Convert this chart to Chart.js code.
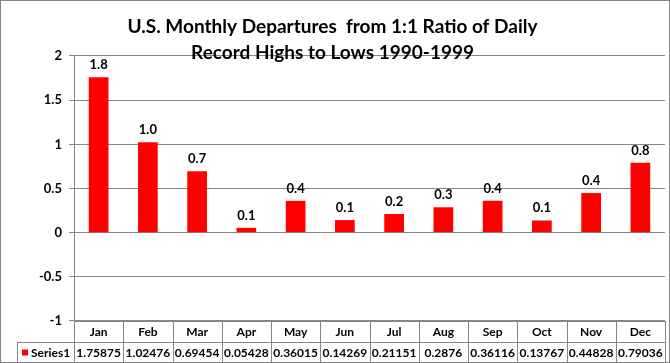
<!DOCTYPE html>
<html>
<head>
<meta charset="utf-8">
<script src="https://cdn.jsdelivr.net/npm/chart.js@4"></script>
<style>
  html, body { margin: 0; padding: 0; background: #fff; }
  #wrap { width: 670px; height: 363px; }
</style>
</head>
<body>
<div id="wrap"><canvas id="chart" width="670" height="363"></canvas></div>
<script>
const months = ['Jan', 'Feb', 'Mar', 'Apr', 'May', 'Jun', 'Jul', 'Aug', 'Sep', 'Oct', 'Nov', 'Dec'];
const series1 = [1.75875, 1.02476, 0.69454, 0.05428, 0.36015, 0.14269, 0.21151, 0.2876, 0.36116, 0.13767, 0.44828, 0.79036];
const tableValues = ['1.75875', '1.02476', '0.69454', '0.05428', '0.36015', '0.14269', '0.21151', '0.2876', '0.36116', '0.13767', '0.44828', '0.79036'];
const seriesName = 'Series1';
const titleLines = ['U.S. Monthly Departures  from 1:1 Ratio of Daily', 'Record Highs to Lows 1990-1999'];

const FONT = 'Lato';
const lineColor = '#868686';

// outer frame, value labels and the data table under the plot
const extras = {
    id: 'extras',
    afterDatasetsDraw(chart) {
        const c = chart.ctx;
        const meta = chart.getDatasetMeta(0);
        c.save();
        c.fillStyle = '#000';
        c.font = 'bold 13px ' + FONT;
        c.textAlign = 'center';
        c.textBaseline = 'alphabetic';
        meta.data.forEach((bar, i) => {
            c.fillText(series1[i].toFixed(1), bar.x, bar.y - 8);
        });
        c.restore();
    },
    afterDraw(chart) {
        const c = chart.ctx;
        const area = chart.chartArea;
        const x = chart.scales.x;
        const colW = area.width / months.length;
        const top = area.bottom;
        const rowH = 21;
        const firstLeft = 17;

        c.save();
        c.strokeStyle = lineColor;
        c.lineWidth = 1;

        // horizontal lines
        c.beginPath();
        c.moveTo(area.left, top + 0.5);
        c.lineTo(area.right, top + 0.5);
        c.moveTo(firstLeft, top + rowH + 0.5);
        c.lineTo(area.right, top + rowH + 0.5);
        c.moveTo(firstLeft, top + rowH * 2 - 0.5);
        c.lineTo(area.right, top + rowH * 2 - 0.5);
        // vertical lines
        c.moveTo(firstLeft + 0.5, top + rowH);
        c.lineTo(firstLeft + 0.5, top + rowH * 2);
        for (let i = 0; i <= months.length; i++) {
            const px = Math.round(x.getPixelForValue(i) - colW / 2) + 0.5;
            c.moveTo(px, top);
            c.lineTo(px, top + rowH * 2);
        }
        c.stroke();

        c.fillStyle = '#000';
        c.font = 'bold 12px ' + FONT;
        c.textAlign = 'center';
        c.textBaseline = 'middle';
        months.forEach((m, i) => {
            const px = x.getPixelForValue(i);
            c.fillText(m, px, top + rowH / 2 + 1);
            c.fillText(tableValues[i], px, top + rowH * 1.5 + 1);
        });

        // legend key + series name
        c.fillStyle = '#ff0000';
        c.fillRect(firstLeft + 5, top + rowH * 1.5 - 3, 6, 6);
        c.fillStyle = '#000';
        c.textAlign = 'left';
        c.fillText(seriesName, firstLeft + 14, top + rowH * 1.5 + 1);

        // chart frame
        c.strokeStyle = lineColor;
        c.strokeRect(0.5, 0.5, chart.width - 1, chart.height - 1);
        c.restore();
    }
};

const ctx = document.getElementById('chart').getContext('2d');

let chart = new Chart(ctx, {
    type: 'bar',
    data: {
        labels: months,
        datasets: [{
            label: seriesName,
            data: series1,
            backgroundColor: '#ff0000',
            borderWidth: 0,
            barPercentage: 0.4,
            categoryPercentage: 1.0
        }]
    },
    options: {
        responsive: false,
        animation: false,
        layout: {
            padding: { left: 0, right: 5, top: 0, bottom: 42 }
        },
        plugins: {
            legend: { display: false },
            tooltip: { enabled: false },
            title: {
                display: true,
                text: titleLines,
                color: '#000',
                font: { family: FONT, size: 19, weight: 'bold', lineHeight: 1.368 },
                padding: { top: 14, bottom: -10 }
            }
        },
        scales: {
            x: {
                display: false,
                offset: true
            },
            y: {
                min: -1,
                max: 2,
                afterFit(scale) { scale.width = 74; },
                ticks: {
                    stepSize: 0.5,
                    color: '#000',
                    padding: 7,
                    font: { family: FONT, size: 13, weight: 'bold' },
                    callback: (v) => String(v)
                },
                grid: {
                    color: lineColor,
                    tickLength: 5,
                    drawTicks: true
                },
                border: { display: true, color: lineColor }
            }
        }
    },
    plugins: [extras]
});
</script>
</body>
</html>
